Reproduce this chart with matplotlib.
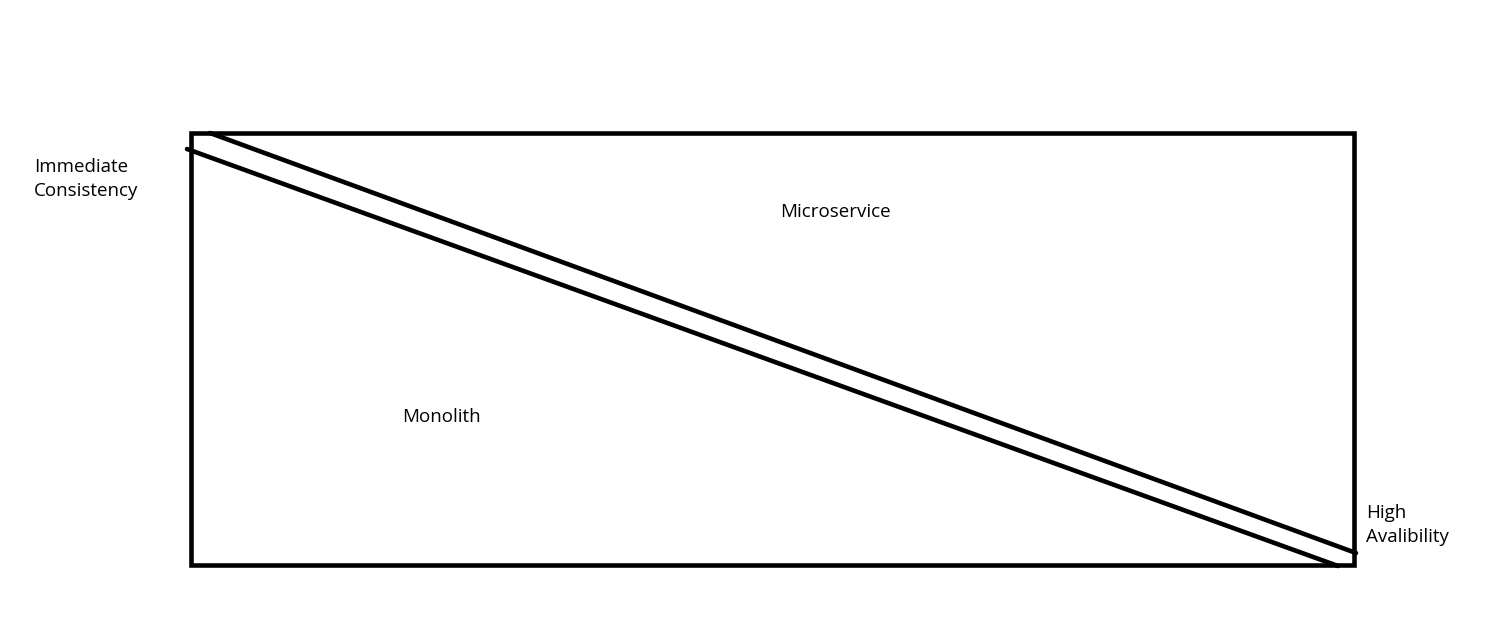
import matplotlib.pyplot as plt
from matplotlib.patches import Rectangle

# canvas in pixel units, y grows downward
W, H = 1497, 641

box_x = [191, 1354]
box_y = [133, 565]

# the two diagonal strokes
line_a_x = [210, 1356]
line_a_y = [133, 553]
line_b_x = [187, 1338]
line_b_y = [149, 566]

labels = ["Immediate\nConsistency", "Microservice", "Monolith", "High\nAvalibility"]
label_x = [34, 835, 441, 1366]
label_y = [158, 212, 417, 504]

fig = plt.figure(figsize=(W / 100, H / 100), dpi=100)
ax = fig.add_axes([0, 0, 1, 1])
ax.set_xlim(0, W)
ax.set_ylim(H, 0)
ax.axis("off")

ax.add_patch(Rectangle((box_x[0], box_y[0]), box_x[1] - box_x[0], box_y[1] - box_y[0],
                       fill=False, lw=3.3, ec="black"))
ax.plot(line_a_x, line_a_y, color="black", lw=3.3, solid_capstyle="round")
ax.plot(line_b_x, line_b_y, color="black", lw=3.3, solid_capstyle="round")

font = ["Open Sans", "DejaVu Sans"]
ax.text(label_x[0], label_y[0], labels[0], family=font, fontsize=13.5, va="top", ha="left", linespacing=1.45)
ax.text(label_x[1], label_y[1], labels[1], family=font, fontsize=13.5, va="center", ha="center")
ax.text(label_x[2], label_y[2], labels[2], family=font, fontsize=13.5, va="center", ha="center")
ax.text(label_x[3], label_y[3], labels[3], family=font, fontsize=13.5, va="top", ha="left", linespacing=1.45)

fig.savefig("out.png", dpi=100, facecolor="white")
